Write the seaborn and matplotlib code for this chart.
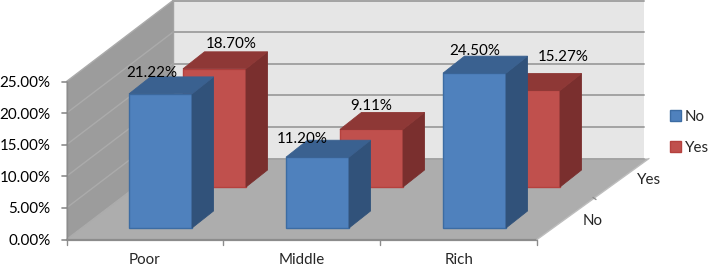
import matplotlib
matplotlib.use("Agg")
from matplotlib import pyplot as plt
from matplotlib.patches import Patch, Polygon
import seaborn as sns

# Data
groups = ["Poor", "Middle", "Rich"]
no_values = [21.22, 11.20, 24.50]
yes_values = [18.70, 9.11, 15.27]
y_ticks = [0, 5, 10, 15, 20, 25]
depth_labels = ["No", "Yes"]

# Colours
BLUE, BLUE_SIDE, BLUE_TOP, BLUE_EDGE = "#4F81BD", "#31527A", "#3A6190", "#3C6CA3"
RED, RED_SIDE, RED_TOP, RED_EDGE = "#C0504D", "#7A2F2E", "#8E3836", "#B5413E"

# Layout, in pixels of the 708x267 picture
W, H = 708, 267
PX_PER_CAT = 157.0
PX_PER_PCT = 6.32
DEPTH_X, DEPTH_Y = 21.5, 17.0
BAR_W = 63.0

sns.set_style("white")
plt.rcParams["font.family"] = ["Lato", "DejaVu Sans"]
FS = 10.9

fig = plt.figure(figsize=(W / 100, H / 100), dpi=100)

# Walls and floor
bg = fig.add_axes([0, 0, 1, 1], zorder=0)
bg.set_xlim(0, W)
bg.set_ylim(H, 0)
bg.axis("off")
fx0, fx1, fy = 66.5, 537, 239.5
bx0, bx1, by = 173, 644, 158.5
top = max(y_ticks) * PX_PER_PCT
bg.add_patch(Polygon([(bx0, by), (bx1, by), (bx1, by - top), (bx0, by - top)], fc="#E6E6E6", ec="none"))
bg.add_patch(Polygon([(fx0, fy), (bx0, by), (bx0, by - top), (fx0, fy - top)], fc="#9C9C9C", ec="none"))
bg.add_patch(Polygon([(fx0, fy), (fx1, fy), (649, by), (bx0, by)], fc="#ADADAD", ec="none"))
for v in y_ticks:
    dy = v * PX_PER_PCT
    bg.plot([fx0, bx0], [fy - dy, by - dy], color="#ABABAB", lw=1.0)
    bg.plot([bx0, bx1], [by - dy, by - dy], color="#A3A3A3", lw=1.4)
    bg.plot([fx0 - 5, fx0], [fy - dy, fy - dy], color="#8C8C8C", lw=1.2)
    bg.text(50.5, fy - dy + 1.5, f"{v:.2f}%", ha="right", va="center", fontsize=FS, color="black")
bg.plot([fx0, fx0], [fy, fy - top], color="#8C8C8C", lw=1.0)
bg.plot([bx0, bx0], [by, by - top], color="#A3A3A3", lw=1.0)
bg.plot([fx0, fx1], [fy, fy], color="#8C8C8C", lw=1.6)
bg.plot([fx1, 649], [fy, by], color="#BDBDBD", lw=1.0)
for i in range(4):
    x = fx0 + i * (fx1 - fx0) / 3
    bg.plot([x, x], [fy, fy + 5.5], color="#8C8C8C", lw=1.0)
bg.plot([593, 596], [197.5, 199.5], color="#8C8C8C", lw=1.0)
bg.text(593, 221, depth_labels[0], ha="center", va="center", fontsize=FS)
bg.text(649.5, 180, depth_labels[1], ha="center", va="center", fontsize=FS)
for i, g in enumerate(groups):
    x = fx0 + (i + 0.5) * (fx1 - fx0) / 3
    bg.text(x, 260.5, g, ha="center", va="center", fontsize=FS)


def bar_row(values, center_px, base_px, z, face, side, roof, edge, offsets):
    ax = fig.add_axes([0, 0, 1, 1], zorder=z)
    sns.barplot(x=groups, y=values, color=face, saturation=1, width=BAR_W / PX_PER_CAT,
                edgecolor=edge, linewidth=1.0, ax=ax)
    ax.set_xlim(-center_px / PX_PER_CAT, (W - center_px) / PX_PER_CAT)
    ax.set_ylim(-(H - base_px) / PX_PER_PCT, base_px / PX_PER_PCT)
    ax.axis("off")
    ax.patch.set_alpha(0)
    dx, dy = DEPTH_X / PX_PER_CAT, DEPTH_Y / PX_PER_PCT
    for bar, val, off in zip(ax.patches, values, offsets):
        x0, x1 = bar.get_x(), bar.get_x() + bar.get_width()
        h = bar.get_height()
        ax.add_patch(Polygon([(x1, 0), (x1 + dx, dy), (x1 + dx, h + dy), (x1, h)],
                             fc=side, ec=side, lw=0.6))
        ax.add_patch(Polygon([(x0, h), (x0 + dx, h + dy), (x1 + dx, h + dy), (x1, h)],
                             fc=roof, ec=roof, lw=0.6))
        ax.annotate(f"{val:.2f}%", (x0 + (x1 - x0) / 2, h), xytext=off, textcoords="offset pixels",
                    ha="center", va="center", fontsize=FS, color="black", zorder=10,
                    annotation_clip=False)
    return ax


bar_row(yes_values, 214.5, 187, 1, RED, RED_SIDE, RED_TOP, RED_EDGE,
        [(16.5, 25), (0, 23), (34.5, 33.5)])
bar_row(no_values, 160.5, 228, 2, BLUE, BLUE_SIDE, BLUE_TOP, BLUE_EDGE,
        [(-8.5, 21), (-15.5, 18.5), (0, 22.5)])

handles = [Patch(fc=BLUE, ec=BLUE_EDGE, label=depth_labels[0]),
           Patch(fc=RED, ec=RED_EDGE, label=depth_labels[1])]
leg = fig.legend(handles=handles, frameon=False, fontsize=FS, loc="center left",
                 bbox_to_anchor=(670 / W, 1 - 132.5 / H), borderaxespad=0, borderpad=0,
                 handlelength=0.72, handleheight=0.72, handletextpad=0.25, labelspacing=1.1)
leg.set_zorder(5)

fig.savefig("out.png", dpi=100)
